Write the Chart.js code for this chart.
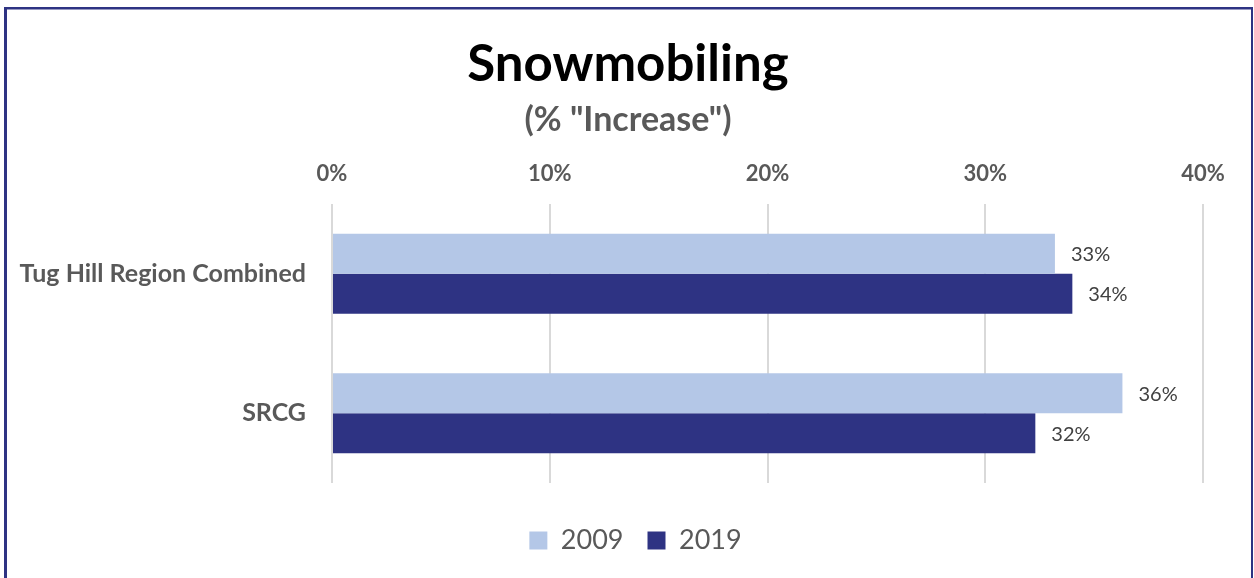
<!DOCTYPE html>
<html>
<head>
<meta charset="utf-8">
<script src="https://cdn.jsdelivr.net/npm/chart.js@4/dist/chart.umd.min.js"></script>
<style>
html,body{margin:0;padding:0;background:#fff;}
#wrap{position:relative;width:1254px;height:578px;}
</style>
</head>
<body>
<div id="wrap"><canvas id="c" width="1254" height="578"></canvas></div>
<script>
const categories = ["Tug Hill Region Combined", "SRCG"];
const seriesNames = ["2009", "2019"];
const values2009 = [33.2, 36.3];
const values2019 = [34.0, 32.3];
const tickValues = [0, 10, 20, 30, 40];

const FONT = "Lato, 'Open Sans', sans-serif";

const borderPlugin = {
  id: 'frame',
  beforeDraw(chart) {
    const ctx = chart.ctx;
    ctx.save();
    ctx.fillStyle = '#fff';
    ctx.fillRect(0, 0, chart.width, chart.height);
    ctx.fillStyle = '#2E3383';
    ctx.fillRect(4, 7, 3, chart.height - 7);
    ctx.fillRect(4, 7, 1249, 2.5);
    ctx.fillRect(1251, 7, 2, chart.height - 7);
    ctx.restore();
  }
};

const boxShift = {
  id: 'boxShift',
  afterLayout(chart) {
    const shift = (b, dx, dy) => { if (b) { b.left += dx; b.right += dx; b.top += dy; b.bottom += dy; } };
    shift(chart.titleBlock, 26.5, 0);
    const sub = chart.boxes.find(b => b !== chart.titleBlock && b.options && b.options.text === '(% "Increase")');
    shift(sub, 26.5, 0);
    shift(chart.legend, 34, 20);
  }
};

const labelPlugin = {
  id: 'barLabels',
  afterDatasetsDraw(chart) {
    const ctx = chart.ctx;
    ctx.save();
    ctx.font = "20px " + FONT;
    ctx.fillStyle = '#404040';
    ctx.textAlign = 'left';
    ctx.textBaseline = 'middle';
    chart.data.datasets.forEach((ds, di) => {
      const meta = chart.getDatasetMeta(di);
      meta.data.forEach((el, i) => {
        ctx.fillText(Math.round(ds.data[i]) + '%', el.x + 16, el.y + 1);
      });
    });
    ctx.restore();
  }
};

new Chart(document.getElementById('c'), {
  type: 'bar',
  data: {
    labels: categories,
    datasets: [
      { label: seriesNames[0], data: values2009, backgroundColor: '#B4C7E7', borderWidth: 0 },
      { label: seriesNames[1], data: values2019, backgroundColor: '#2E3383', borderWidth: 0 }
    ]
  },
  options: {
    indexAxis: 'y',
    responsive: false,
    animation: false,
    devicePixelRatio: 1,
    layout: { padding: { left: 0, right: 51, top: 0, bottom: 34 } },
    datasets: { bar: { categoryPercentage: 0.573, barPercentage: 1.0 } },
    scales: {
      x: {
        position: 'top',
        min: 0, max: 40,
        afterBuildTicks(scale) { scale.ticks = tickValues.map(v => ({ value: v })); },
        afterFit(scale) { scale.height = 63.6; },
        grid: { color: '#D9D9D9', lineWidth: 2, drawTicks: false },
        border: { display: false },
        ticks: {
          padding: 17,
          color: '#595959',
          font: { family: FONT, size: 22, weight: 'bold' },
          callback: v => v + '%'
        }
      },
      y: {
        afterFit(scale) { scale.width = 332; },
        grid: { display: false, drawTicks: false },
        border: { display: false },
        ticks: {
          padding: 26,
          color: '#595959',
          font: { family: FONT, size: 25, weight: 'bold' }
        }
      }
    },
    plugins: {
      title: {
        display: true,
        text: 'Snowmobiling',
        color: '#000',
        font: { family: FONT, size: 51, weight: 'bold', lineHeight: 1.2 },
        padding: { top: 34, bottom: 0 }
      },
      subtitle: {
        display: true,
        text: '(% "Increase")',
        color: '#595959',
        font: { family: FONT, size: 34, weight: 'bold', lineHeight: 1.2 },
        padding: { top: 4.4, bottom: 0 }
      },
      legend: {
        position: 'bottom',
        labels: {
          color: '#595959',
          font: { family: FONT, size: 27 },
          boxWidth: 18, boxHeight: 18,
          padding: 24
        }
      },
      tooltip: { enabled: false }
    }
  },
  plugins: [borderPlugin, boxShift, labelPlugin]
});
</script>
</body>
</html>
